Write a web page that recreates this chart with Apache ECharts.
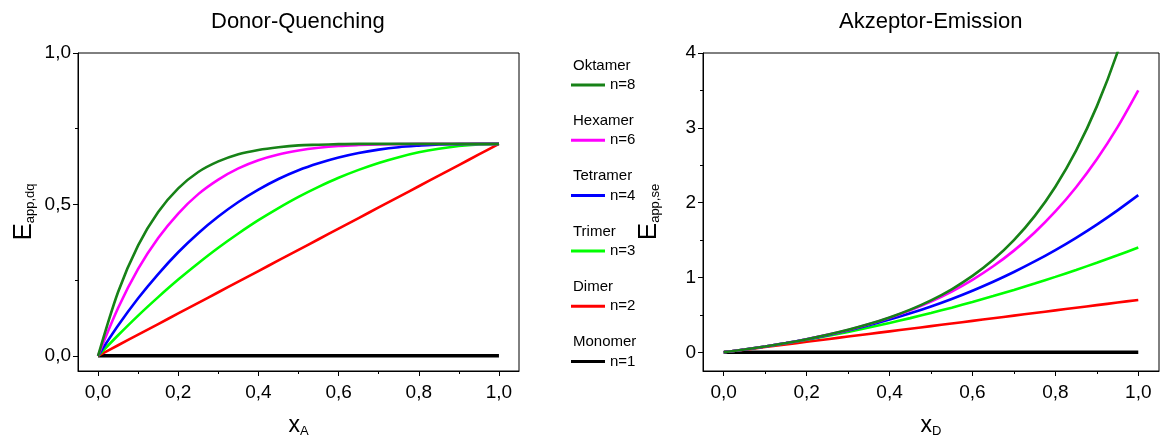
<!DOCTYPE html>
<html><head><meta charset="utf-8">
<script src="https://cdn.jsdelivr.net/npm/echarts@6/dist/echarts.min.js"></script>
<style>html,body{margin:0;padding:0;background:#fff}#c{width:1176px;height:446px}</style>
</head><body><div id="c"></div>
<script>
// x positions (x_A for left chart, x_D for right chart)
const xs = [0,0.05,0.1,0.15,0.2,0.25,0.3,0.35,0.4,0.45,0.5,0.55,0.6,0.65,0.7,0.75,0.8,0.85,0.9,0.95,1.0];

const names   = ['Oktamer','Hexamer','Tetramer','Trimer','Dimer','Monomer'];
const nLabels = ['n=8','n=6','n=4','n=3','n=2','n=1'];
const colors  = ['#178217','#ff00ff','#0000ff','#00ff00','#ff0000','#000000'];

// Donor-Quenching  E_app,dq
const dqOkta  = [0,0.211,0.365,0.475,0.553,0.607,0.642,0.666,0.680,0.689,0.695,0.697,0.699,0.700,0.700,0.700,0.700,0.700,0.700,0.700,0.700];
const dqHexa  = [0,0.158,0.287,0.389,0.470,0.534,0.582,0.619,0.646,0.665,0.678,0.687,0.693,0.696,0.698,0.699,0.700,0.700,0.700,0.700,0.700];
const dqTetra = [0,0.100,0.190,0.270,0.342,0.405,0.460,0.508,0.549,0.584,0.613,0.636,0.655,0.670,0.681,0.689,0.694,0.698,0.699,0.700,0.700];
const dqTri   = [0,0.068,0.133,0.194,0.252,0.306,0.357,0.404,0.448,0.488,0.525,0.558,0.588,0.614,0.637,0.656,0.672,0.684,0.693,0.698,0.700];
const dqDi    = [0,0.035,0.070,0.105,0.140,0.175,0.210,0.245,0.280,0.315,0.350,0.385,0.420,0.455,0.490,0.525,0.560,0.595,0.630,0.665,0.700];
const dqMono  = [0,0,0,0,0,0,0,0,0,0,0,0,0,0,0,0,0,0,0,0,0];

// Akzeptor-Emission  E_app,se
const seOkta  = [0,0.0368,0.0778,0.1235,0.175,0.2333,0.2999,0.3767,0.4659,0.5706,0.6945,0.8425,1.0206,1.2363,1.4988,1.8197,2.2128,2.695,3.2867,4.0121,4.9];
const seHexa  = [0,0.0368,0.0778,0.1235,0.1749,0.2331,0.2993,0.3749,0.4619,0.5622,0.6781,0.8125,0.9684,1.1492,1.3588,1.6017,1.8825,2.2066,2.5799,3.0087,3.5];
const seTetra = [0,0.0368,0.0777,0.1231,0.1736,0.2297,0.2919,0.3608,0.4368,0.5205,0.6125,0.7132,0.8232,0.943,1.0731,1.2141,1.3664,1.5306,1.7073,1.8969,2.1];
const seTri   = [0,0.0368,0.077,0.1208,0.168,0.2188,0.273,0.3308,0.392,0.4568,0.525,0.5968,0.672,0.7508,0.833,0.9188,1.008,1.1008,1.197,1.2968,1.4];
const seDi    = [0,0.035,0.070,0.105,0.140,0.175,0.210,0.245,0.280,0.315,0.350,0.385,0.420,0.455,0.490,0.525,0.560,0.595,0.630,0.665,0.700];
const seMono  = [0,0,0,0,0,0,0,0,0,0,0,0,0,0,0,0,0,0,0,0,0];

// tick values
const xTicks  = [0,0.2,0.4,0.6,0.8,1.0];
const xMinor  = [0.1,0.3,0.5,0.7,0.9];
const yTicksDq = [0,0.5,1.0];
const yMinorDq = [0.25,0.75];
const yTicksSe = [0,1,2,3,4];
const yMinorSe = [0.5,1.5,2.5,3.5];

const dqData = [dqOkta,dqHexa,dqTetra,dqTri,dqDi,dqMono];
const seData = [seOkta,seHexa,seTetra,seTri,seDi,seMono];

const FONT = 'Liberation Sans, Arial, sans-serif';
const comma = v => v.toFixed(1).replace('.', ',');

function mainX(grid, name, sub){
  return {
    type:'value', gridIndex:grid, position:'bottom', min:-0.05, max:1.05,
    name:'{e|'+name+'}{s|'+sub+'}', nameLocation:'middle', nameGap:42,
    nameTextStyle:{rich:{e:{fontSize:23,fontFamily:FONT,color:'#000'},s:{fontSize:13,fontFamily:FONT,color:'#000',padding:[12,0,0,0]}}},
    axisLine:{show:true,onZero:false,lineStyle:{color:'#000',width:1}},
    axisTick:{show:true,customValues:xTicks,length:5,lineStyle:{color:'#000'}},
    axisLabel:{customValues:xTicks,formatter:comma,fontSize:19,fontFamily:FONT,color:'#000',margin:12},
    splitLine:{show:false}
  };
}
function minorX(grid){
  return {
    type:'value', gridIndex:grid, position:'bottom', min:-0.05, max:1.05,
    axisLine:{show:false,onZero:false},
    axisTick:{show:true,customValues:xMinor,length:3,lineStyle:{color:'#000'}},
    axisLabel:{show:false},
    splitLine:{show:false}
  };
}
function mainY(grid, min, max, ticks, fmt, sub){
  return {
    type:'value', gridIndex:grid, position:'left', min:min, max:max,
    name:'{e|E}{s|'+sub+'}', nameLocation:'middle', nameGap:41, nameRotate:90,
    nameTextStyle:{rich:{e:{fontSize:26,fontFamily:FONT,color:'#000'},s:{fontSize:13,fontFamily:FONT,color:'#000',padding:[13,0,0,0]}}},
    axisLine:{show:true,onZero:false,lineStyle:{color:'#000',width:1}},
    axisTick:{show:true,customValues:ticks,length:5,lineStyle:{color:'#000'}},
    axisLabel:{customValues:ticks,formatter:fmt,fontSize:19,fontFamily:FONT,color:'#000',margin:7},
    splitLine:{show:false}
  };
}
function minorY(grid, min, max, ticks){
  return {
    type:'value', gridIndex:grid, position:'left', min:min, max:max,
    axisLine:{show:false,onZero:false},
    axisTick:{show:true,customValues:ticks,length:3,lineStyle:{color:'#000'}},
    axisLabel:{show:false},
    splitLine:{show:false}
  };
}

const series = [];
for (let g = 0; g < 2; g++) {
  const src = g === 0 ? dqData : seData;
  for (let i = names.length - 1; i >= 0; i--) {
    series.push({
      type:'line', name:names[i], xAxisIndex:g*2, yAxisIndex:g*2,
      data: xs.map((x,k)=>[x, src[i][k]]),
      showSymbol:false, smooth:0.3, clip:true,
      lineStyle:{color:colors[i], width: i===5 ? 3.5 : 2.6},
      itemStyle:{color:colors[i]},
      animation:false
    });
  }
}

const chart = echarts.init(document.getElementById('c'), null, {renderer:'canvas'});
chart.setOption({
  backgroundColor:'#fff',
  animation:false,
  title:[
    {text:'Donor-Quenching', left:211, top:11, padding:0, textStyle:{fontSize:22,fontWeight:'normal',fontFamily:FONT,color:'#000'}},
    {text:'Akzeptor-Emission', left:839, top:11, padding:0, textStyle:{fontSize:22,fontWeight:'normal',fontFamily:FONT,color:'#000'}}
  ],
  grid:[
    {left:78, top:53, width:441, height:318, show:true, borderColor:'#000', borderWidth:1, backgroundColor:'transparent'},
    {left:703, top:53, width:456, height:318, show:true, borderColor:'#000', borderWidth:1, backgroundColor:'transparent'}
  ],
  xAxis:[ mainX(0,'x','A'), minorX(0), mainX(1,'x','D'), minorX(1) ],
  yAxis:[
    mainY(0,-0.05,1.0,yTicksDq,comma,'app,dq'), minorY(0,-0.05,1.0,yMinorDq),
    mainY(1,-0.25,4,yTicksSe,v=>String(v),'app,se'), minorY(1,-0.25,4,yMinorSe)
  ],
  legend:[
    {data:names, orient:'vertical', left:568, top:57, padding:0, itemGap:38.3, itemWidth:0, itemHeight:0, icon:'rect',
     selectedMode:false, formatter:n=>n,
     textStyle:{fontSize:15,fontFamily:FONT,color:'#000',lineHeight:17}},
    {data:names, orient:'vertical', left:571, top:76.5, padding:0, itemGap:38.3, itemWidth:34, itemHeight:3, icon:'rect',
     selectedMode:false, formatter:n=>nLabels[names.indexOf(n)],
     textStyle:{fontSize:15,fontFamily:FONT,color:'#000',lineHeight:17}}
  ],
  series:series
});
</script></body></html>
